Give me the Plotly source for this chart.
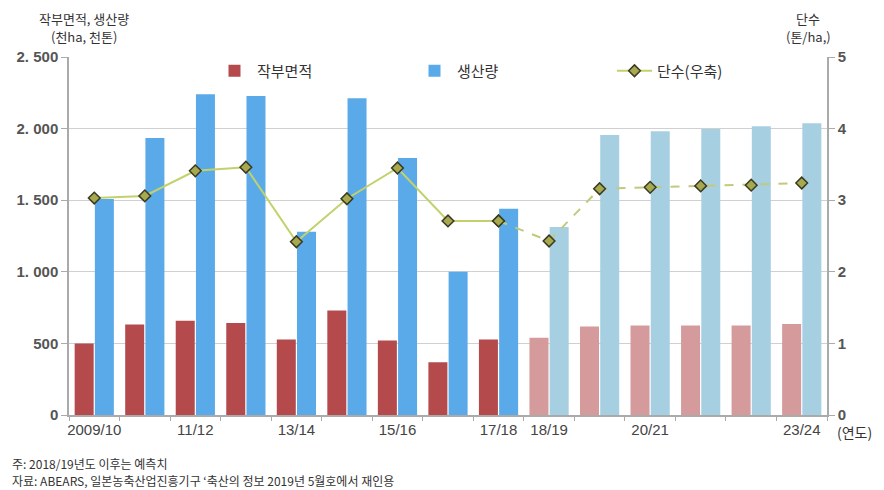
import plotly.graph_objects as go

years = ["2009/10", "2010/11", "2011/12", "2012/13", "2013/14", "2014/15", "2015/16",
         "2016/17", "2017/18", "2018/19", "2019/20", "2020/21", "2021/22", "2022/23", "2023/24"]
tick_labels = ["2009/10", "", "11/12", "", "13/14", "", "15/16", "", "17/18", "18/19",
               "", "20/21", "", "", "23/24"]
area = [500, 632, 658, 643, 527, 730, 520, 368, 527, 540, 618, 625, 625, 625, 635]
production = [1508, 1934, 2240, 2228, 1280, 2212, 1795, 1000, 1440, 1313, 1955, 1982, 1997, 2017, 2038]
yield_t = [3.03, 3.06, 3.41, 3.46, 2.42, 3.02, 3.45, 2.71, 2.71, 2.43, 3.16, 3.18, 3.20, 3.21, 3.24]
first_forecast = 9  # 2018/19 onward are forecasts

# page has an 8px body margin; figure placed at (8, 8)
OFF = 8
W, H = 884 - 2 * OFF, 490 - OFF
PL, PR, PT, PB = 69, 827, 57, 415  # plot area in page pixels
L, R, T, B = PL - OFF, (W + OFF) - PR, PT - OFF, (H + OFF) - PB
pw, ph = PR - PL, PB - PT


def px(x):
    return (x - PL) / pw


def py(y):
    return (PB - y) / ph


red_colors = ["#b44a4c" if i < first_forecast else "#d49a9c" for i in range(len(years))]
blue_colors = ["#5aaaea" if i < first_forecast else "#a7cfe2" for i in range(len(years))]

fig = go.Figure()
fig.add_trace(go.Bar(x=years, y=area, name="작부면적", marker=dict(color=red_colors, line_width=0)))
fig.add_trace(go.Bar(x=years, y=production, name="생산량", marker=dict(color=blue_colors, line_width=0)))

split = first_forecast - 1
marker_style = dict(symbol="diamond", size=9, color="#a7a94f", line=dict(color="#3a3a22", width=1.5))
fig.add_trace(go.Scatter(x=years[:split + 1], y=yield_t[:split + 1], yaxis="y2", name="단수(우축)",
                         mode="lines+markers", line=dict(color="#c3d16a", width=2),
                         marker=marker_style))
fig.add_trace(go.Scatter(x=years[split:], y=yield_t[split:], yaxis="y2", showlegend=False,
                         mode="lines+markers", line=dict(color="#c3c97a", width=2, dash="dash"),
                         marker=marker_style))

tick_font = dict(family="Liberation Sans", size=15, color="#555555", weight="bold")
left_vals = [0, 500, 1000, 1500, 2000, 2500]
left_text = ["0", "500", "1. 000", "1. 500", "2. 000", "2. 500"]

fig.update_layout(
    width=W, height=H,
    margin=dict(l=L, r=R, t=T, b=B, autoexpand=False),
    paper_bgcolor="white", plot_bgcolor="white",
    barmode="group", bargap=0.2, bargroupgap=0.06,
    font=dict(family="Noto Sans CJK KR", size=14, color="#333333"),
    xaxis=dict(type="category", tickmode="array", tickvals=years, ticktext=tick_labels,
               tickson="boundaries", ticks="outside", ticklen=4, tickcolor="#aaaaaa",
               tickangle=0, automargin=False,
               showline=True, linecolor="#aaaaaa", linewidth=1.5, showgrid=False,
               tickfont=dict(family="Liberation Sans", size=15, color="#444444"),
               range=[-0.5, len(years) - 0.5]),
    yaxis=dict(range=[0, 2500], tickmode="array", tickvals=left_vals, ticktext=left_text,
               showgrid=True, gridcolor="#d0d0d0", gridwidth=1, zeroline=False, automargin=False,
               showline=True, linecolor="#aaaaaa", linewidth=1.5,
               ticks="outside", ticklen=6, tickcolor="#aaaaaa", tickfont=tick_font),
    yaxis2=dict(range=[0, 5], overlaying="y", side="right", tickvals=[0, 1, 2, 3, 4, 5],
                showgrid=False, zeroline=False, showline=True, linecolor="#aaaaaa", linewidth=1.5,
                automargin=False,
                ticks="outside", ticklen=6, tickcolor="#aaaaaa", tickfont=tick_font),
    legend=dict(orientation="h", x=px(212), y=py(71), xanchor="left", yanchor="middle",
                bgcolor="rgba(0,0,0,0)", font=dict(size=15, color="#333333"),
                entrywidth=150, entrywidthmode="pixels", itemwidth=35),
    showlegend=True,
)

ann = [
    (84, 19, "작부면적, 생산량", "center", 13),
    (84, 37, "(천ha, 천톤)", "center", 13),
    (808, 19, "단수", "center", 13),
    (808, 37, "(톤/ha,)", "center", 13),
    (835, 432, "(연도)", "left", 14),
    (10, 463, "주: 2018/19년도 이후는 예측치", "left", 12),
    (10, 480, "자료: ABEARS, 일본농축산업진흥기구 ‘축산의 정보 2019년 5월호에서 재인용", "left", 12),
]
for x, y, text, anchor, size in ann:
    fig.add_annotation(x=px(x), y=py(y), text=text, xanchor=anchor, yanchor="middle",
                       xref="paper", yref="paper", showarrow=False,
                       font=dict(size=size, color="#333333"))

fig.write_html("out.html")
